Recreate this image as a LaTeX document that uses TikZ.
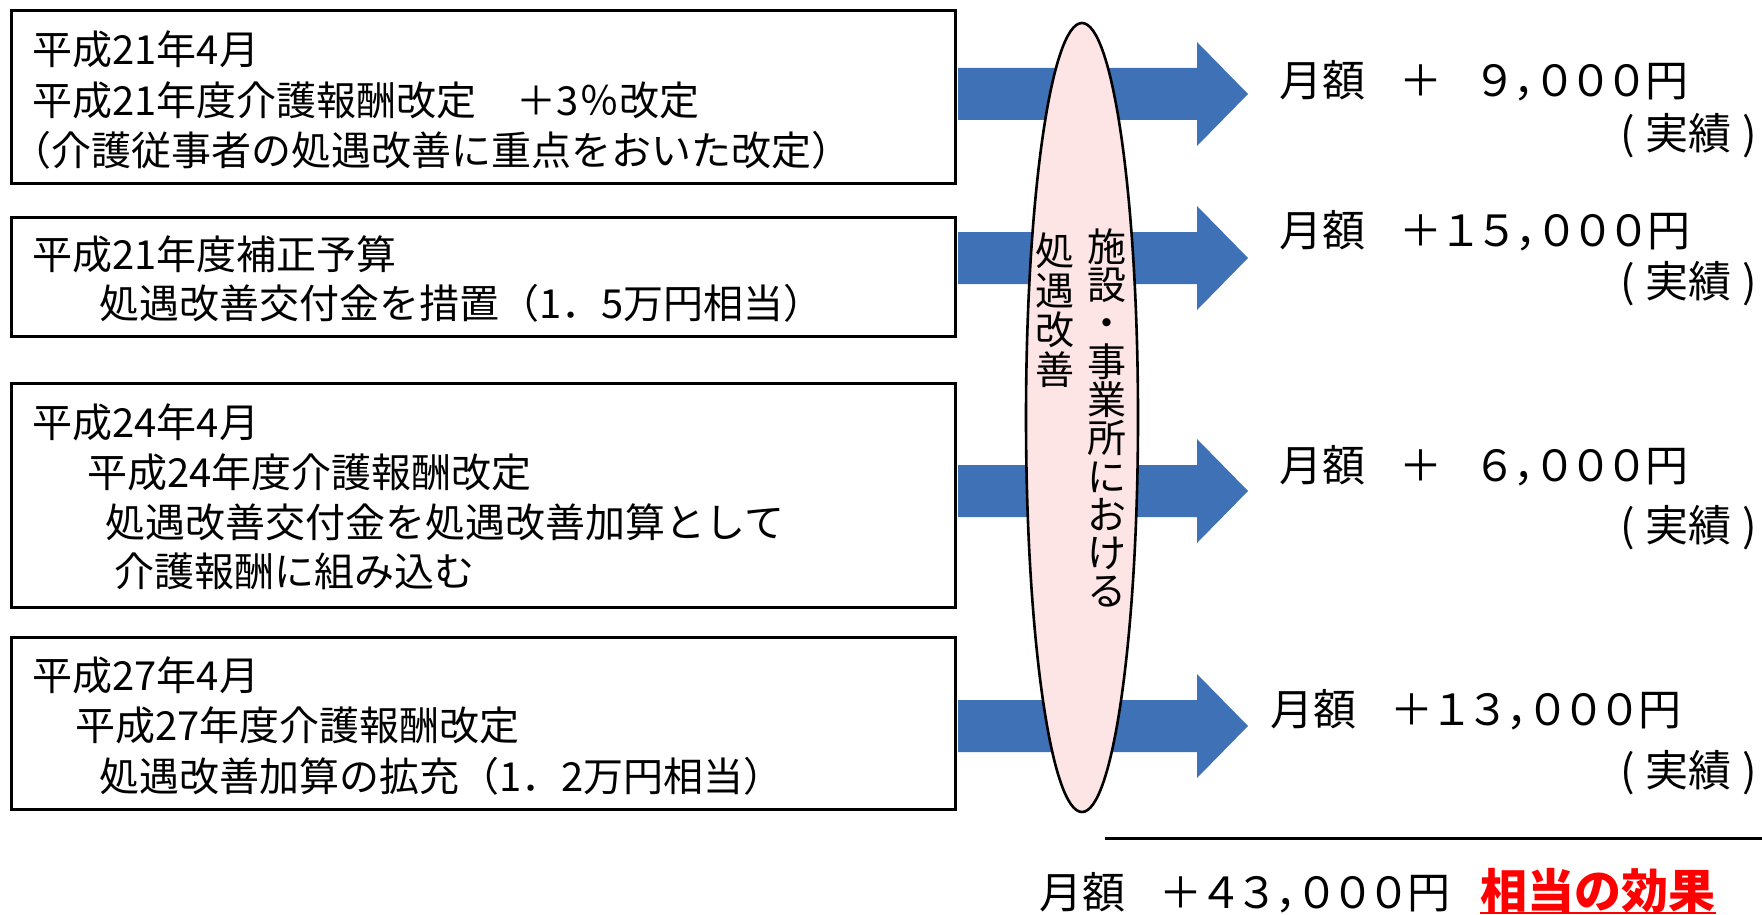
\documentclass[tikz,border=0pt]{standalone}
\usepackage{fontspec}
\setmainfont{Noto Sans CJK JP}
\usetikzlibrary{shapes.geometric}
\definecolor{arrowblue}{RGB}{62,113,182}
\definecolor{ellpink}{RGB}{252,229,228}
\definecolor{effred}{RGB}{255,0,0}
\newcommand{\fdig}[1]{\makebox[0.84em]{#1}}
\newcommand{\fcom}{\makebox[0.55em][l]{，}}
\newcommand{\jisseki}{(\kern0.25em 実績\kern0.25em)}
\begin{document}
\begin{tikzpicture}[x=0.5pt,y=-0.5pt]
\useasboundingbox (0,0) rectangle (1762,915);
\tikzset{
  infobox/.style={draw=black, line width=1.5pt, minimum width=472pt, inner sep=0pt, fill=white},
  ltext/.style={anchor=base west, inner sep=0pt, font=\fontsize{20}{24}\selectfont},
  rtext/.style={anchor=base west, inner sep=0pt, font=\fontsize{21.5}{26}\selectfont},
  rnote/.style={anchor=base east, inner sep=0pt, font=\fontsize{21.5}{26}\selectfont},
  blockarrow/.style={fill=arrowblue},
  vcol/.style={inner sep=0pt, align=center},
  lens/.style={draw=black, line width=1.3pt, fill=ellpink, ellipse, inner sep=0pt},
}
% boxes
\node[infobox, minimum height=86pt] (b1) at (483,97) {};
\node[infobox, minimum height=59.5pt] (b2) at (483,276.5) {};
\node[infobox, minimum height=112pt] (b3) at (483,495) {};
\node[infobox, minimum height=86pt] (b4) at (483,723) {};

% box texts
\node[ltext] (t11) at (32,65) {平成21年4月};
\node[ltext] (t12) at (32,116) {平成21年度介護報酬改定　＋3％改定};
\node[ltext] (t13) at (11,166) {（介護従事者の処遇改善に重点をおいた改定）};
\node[ltext] (t21) at (32,269) {平成21年度補正予算};
\node[ltext] (t22) at (99,318) {処遇改善交付金を措置（1．5万円相当）};
\node[ltext] (t31) at (32,437) {平成24年4月};
\node[ltext] (t32) at (87,487) {平成24年度介護報酬改定};
\node[ltext] (t33) at (105,537) {処遇改善交付金を処遇改善加算として};
\node[ltext] (t34) at (114,586) {介護報酬に組み込む};
\node[ltext] (t41) at (32,690) {平成27年4月};
\node[ltext] (t42) at (75,740) {平成27年度介護報酬改定};
\node[ltext] (t43) at (99,791) {処遇改善加算の拡充（1．2万円相当）};

% block arrows
\foreach \ay in {94,258,491,726} {
  \fill[blockarrow] (958,\ay-26) -- (1197,\ay-26) -- (1197,\ay-52) -- (1248,\ay)
    -- (1197,\ay+52) -- (1197,\ay+26) -- (958,\ay+26) -- cycle;
}

% lens
\node[lens, minimum width=56pt, minimum height=394.5pt] (ell) at (1082,417.5) {};
\node[vcol, font=\fontsize{19.5}{19.15}\selectfont] (vr) at (1107,418) {施\\設\\・\\事\\業\\所\\に\\お\\け\\る};
\node[vcol, font=\fontsize{19.5}{19.75}\selectfont] (vl) at (1055,310) {処\\遇\\改\\善};

% results
\node[rtext] (r1) at (1279,97) {月額\hspace{0.8em}＋\hspace{0.8em}\fdig{９}\fcom\fdig{０}\fdig{０}\fdig{０}円};
\node[rnote] (n1) at (1757,149) {\jisseki};
\node[rtext] (r2) at (1279,246) {月額\hspace{0.8em}＋\fdig{１}\fdig{５}\fcom\fdig{０}\fdig{０}\fdig{０}円};
\node[rnote] (n2) at (1757,297) {\jisseki};
\node[rtext] (r3) at (1279,481) {月額\hspace{0.8em}＋\hspace{0.8em}\fdig{６}\fcom\fdig{０}\fdig{０}\fdig{０}円};
\node[rnote] (n3) at (1757,541) {\jisseki};
\node[rtext] (r4) at (1270,725) {月額\hspace{0.8em}＋\fdig{１}\fdig{３}\fcom\fdig{０}\fdig{０}\fdig{０}円};
\node[rnote] (n4) at (1757,786) {\jisseki};

% total
\coordinate (ruleL) at (1105,838);
\coordinate (ruleR) at (1762,838);
\draw[line width=1.5pt] (ruleL) -- (ruleR);
\node[rtext] (tot) at (1039,908) {月額\hspace{0.8em}＋\fdig{４}\fdig{３}\fcom\fdig{０}\fdig{０}\fdig{０}円};
\node[anchor=base west, inner sep=0pt, text=effred, font=\fontsize{23.5}{28}\selectfont\bfseries] (eff) at (1480,908) {相当の効果};
\draw[effred, line width=1pt] ([yshift=-2.5pt]eff.base west) -- ([yshift=-2.5pt]eff.base east);
\end{tikzpicture}
\end{document}
